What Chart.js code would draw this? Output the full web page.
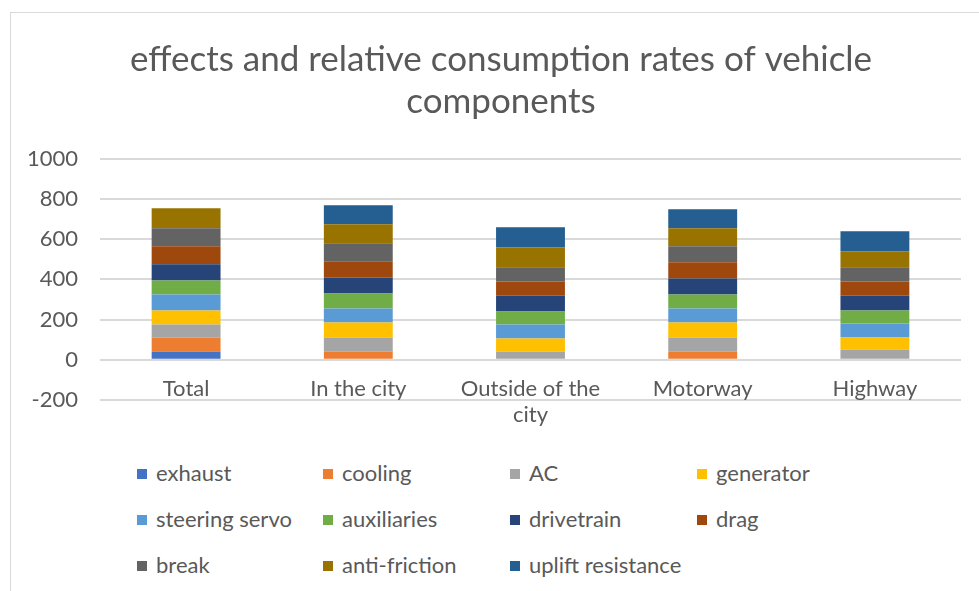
<!DOCTYPE html>
<html>
<head>
<meta charset="utf-8">
<script src="https://cdn.jsdelivr.net/npm/chart.js@4"></script>
<style>
  body { margin: 0; background: #fff; }
  #wrap { position: relative; width: 979px; height: 591px; overflow: hidden; }
  #frame { position: absolute; left: 10px; top: 12px; width: 1000px; height: 600px; border: 1px solid #d9d9d9; }
  #box { position: absolute; left: 0; top: 0; width: 992px; height: 435px; }
  #legend { position: absolute; left: 0; top: 0; font-family: Lato, "Noto Sans", sans-serif; font-size: 22px; color: #595959; }
  .item { position: absolute; white-space: nowrap; line-height: 22px; }
  .item span.sw { display: inline-block; width: 10px; height: 10px; margin-right: 9px; vertical-align: 2px; }
</style>
</head>
<body>
<div id="wrap">
  <div id="frame"></div>
  <div id="box"><canvas id="myChart"></canvas></div>
  <div id="legend"></div>
</div>
<script>
var categories = ["Total", "In the city", ["Outside of the", "city"], "Motorway", "Highway"];

var exhaust     = [40, 0, 0, 0, 0];
var cooling     = [70, 40, 0, 40, 0];
var ac          = [65, 70, 40, 70, 50];
var generator   = [70, 75, 65, 75, 60];
var steering    = [80, 70, 70, 70, 70];
var auxiliaries = [70, 75, 65, 70, 65];
var drivetrain  = [80, 80, 80, 80, 75];
var drag        = [90, 80, 70, 80, 70];
var brk         = [90, 90, 70, 80, 70];
var antiFriction= [100, 95, 100, 90, 80];
var uplift      = [0, 95, 100, 95, 100];

var yTicks = [-200, 0, 200, 400, 600, 800, 1000];

var series = [
  ["exhaust", exhaust, "#4472C4"],
  ["cooling", cooling, "#ED7D31"],
  ["AC", ac, "#A5A5A5"],
  ["generator", generator, "#FFC000"],
  ["steering servo", steering, "#5B9BD5"],
  ["auxiliaries", auxiliaries, "#70AD47"],
  ["drivetrain", drivetrain, "#264478"],
  ["drag", drag, "#9E480E"],
  ["break", brk, "#636363"],
  ["anti-friction", antiFriction, "#997300"],
  ["uplift resistance", uplift, "#255E91"]
];

var font = "Lato, 'Noto Sans', sans-serif";

var ctx = document.getElementById("myChart");
var myChart = new Chart(ctx, {
  type: 'bar',
  data: {
    labels: categories,
    datasets: series.map(function(s) {
      return { label: s[0], data: s[1], backgroundColor: s[2], borderWidth: 0,
               barPercentage: 0.4, categoryPercentage: 1 };
    })
  },
  options: {
    responsive: true,
    maintainAspectRatio: false,
    animation: false,
    layout: { padding: { left: 10, right: 0, top: 0, bottom: 5 } },
    plugins: {
      legend: { display: false },
      tooltip: { enabled: false },
      title: {
        display: true,
        text: ["effects and relative consumption rates of vehicle", "components"],
        color: '#595959',
        font: { family: font, size: 35, weight: 'normal', lineHeight: 1.2 },
        padding: { top: 39, bottom: 36 }
      }
    },
    scales: {
      x: {
        stacked: true,
        position: { y: 0 },
        grid: { display: false },
        border: { display: false },
        ticks: { color: '#595959', font: { family: font, size: 22 }, padding: 8, maxRotation: 0, autoSkip: false }
      },
      y: {
        stacked: true,
        min: -200,
        max: 1000,
        afterBuildTicks: function(s) { s.ticks = yTicks.map(function(v) { return { value: v }; }); },
        afterFit: function(s) { s.width = 90; },
        grid: { color: '#d9d9d9', lineWidth: 2, drawTicks: false },
        border: { display: false },
        ticks: { color: '#595959', font: { family: font, size: 22 }, padding: 22,
                 callback: function(v) { return String(v); } }
      },
      // empty right axis: only keeps the plot narrower than the title box
      yRight: {
        position: 'right',
        min: -200,
        max: 1000,
        afterFit: function(s) { s.width = 31; },
        grid: { display: false },
        border: { display: false },
        ticks: { display: false }
      }
    }
  }
});

// legend in a 4-column grid like the original
var colX = [137, 323, 510, 697];
var rowY = [462, 508, 554];
var leg = document.getElementById("legend");
series.forEach(function(s, i) {
  var d = document.createElement("div");
  d.className = "item";
  d.style.left = colX[i % 4] + "px";
  d.style.top = rowY[Math.floor(i / 4)] + "px";
  d.innerHTML = '<span class="sw" style="background:' + s[2] + '"></span>' + s[0];
  leg.appendChild(d);
});
</script>
</body>
</html>
